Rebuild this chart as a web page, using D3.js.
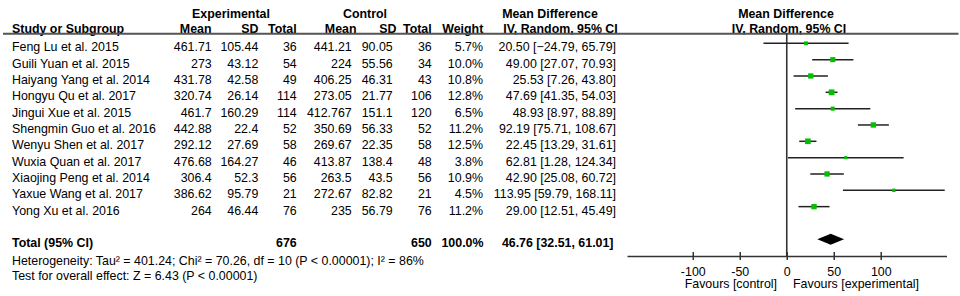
<!DOCTYPE html>
<html>
<head>
<meta charset="utf-8">
<script src="https://cdn.jsdelivr.net/npm/d3@7"></script>
<style>
  html, body { margin: 0; padding: 0; background: #fff; }
  svg { display: block; }
  text { font-family: "Liberation Sans", Arial, sans-serif; font-size: 12.4px; fill: #000; }
</style>
</head>
<body>
<svg id="chart" width="960" height="296"></svg>
<script>
const studies = ["Feng Lu et al. 2015","Guili Yuan et al. 2015","Haiyang Yang et al. 2014","Hongyu Qu et al. 2017","Jingui Xue et al. 2015","Shengmin Guo et al. 2016","Wenyu Shen et al. 2017","Wuxia Quan et al. 2017","Xiaojing Peng et al. 2014","Yaxue Wang et al. 2017","Yong Xu et al. 2016"];
const expMean = [461.71, 273, 431.78, 320.74, 461.7, 442.88, 292.12, 476.68, 306.4, 386.62, 264];
const expSD = [105.44, 43.12, 42.58, 26.14, 160.29, 22.4, 27.69, 164.27, 52.3, 95.79, 46.44];
const expN = [36, 54, 49, 114, 114, 52, 58, 46, 56, 21, 76];
const ctrlMean = [441.21, 224, 406.25, 273.05, 412.767, 350.69, 269.67, 413.87, 263.5, 272.67, 235];
const ctrlSD = [90.05, 55.56, 46.31, 21.77, 151.1, 56.33, 22.35, 138.4, 43.5, 82.82, 56.79];
const ctrlN = [36, 34, 43, 106, 120, 52, 58, 48, 56, 21, 76];
const weight = [5.7, 10.0, 10.8, 12.8, 6.5, 11.2, 12.5, 3.8, 10.9, 4.5, 11.2];
const md = [20.50, 49.00, 25.53, 47.69, 48.93, 92.19, 22.45, 62.81, 42.90, 113.95, 29.00];
const lower = [-24.79, 27.07, 7.26, 41.35, 8.97, 75.71, 13.29, 1.28, 25.08, 59.79, 12.51];
const upper = [65.79, 70.93, 43.80, 54.03, 88.89, 108.67, 31.61, 124.34, 60.72, 168.11, 45.49];
const total = { expN: 676, ctrlN: 650, weight: 100.0, md: 46.76, lower: 32.51, upper: 61.01 };
const tickValues = [-100, -50, 0, 50, 100];
const heterogeneity = "Heterogeneity: Tau\u00b2 = 401.24; Chi\u00b2 = 70.26, df = 10 (P < 0.00001); I\u00b2 = 86%";
const overall = "Test for overall effect: Z = 6.43 (P < 0.00001)";

const svg = d3.select("#chart");
const x = d3.scaleLinear().domain([-170, 170]).range([627, 946.5]);
const y = d3.scaleLinear().domain([0, 12]).range([43.3, 239.3]);
const base = i => y(i) + 7.9;
const f2 = d3.format(".2f");

// header texts
const hdr = svg.append("g");
function ht(t, xx, yy, anchor) {
  hdr.append("text").attr("x", xx).attr("y", yy).attr("text-anchor", anchor)
    .style("font-weight", "bold").text(t);
}
ht("Experimental", 231, 17.5, "middle");
ht("Control", 365, 17.5, "middle");
ht("Mean Difference", 550, 17.5, "middle");
ht("Mean Difference", 786, 17.5, "middle");
ht("Study or Subgroup", 12, 33, "start");
ht("Mean", 211.5, 33, "end");
ht("SD", 258.5, 33, "end");
ht("Total", 296.7, 33, "end");
ht("Mean", 356.5, 33, "end");
ht("SD", 396.5, 33, "end");
ht("Total", 431.7, 33, "end");
ht("Weight", 483.3, 33, "end");
ht("IV, Random, 95% CI", 560.5, 33, "middle");
ht("IV, Random, 95% CI", 789, 33, "middle");

// header rule
svg.append("line").attr("x1", 3).attr("x2", 958.5).attr("y1", 33.7).attr("y2", 33.7)
  .attr("stroke", "#555").attr("stroke-width", 2);

// table rows
const cols = [
  { v: i => String(expMean[i]), x: 211.7 },
  { v: i => String(expSD[i]), x: 258.3 },
  { v: i => String(expN[i]), x: 296.7 },
  { v: i => String(ctrlMean[i]), x: 351.7 },
  { v: i => String(ctrlSD[i]), x: 392.7 },
  { v: i => String(ctrlN[i]), x: 431.7 },
  { v: i => weight[i].toFixed(1) + "%", x: 483 },
  { v: i => `${f2(md[i])} [${f2(lower[i])}, ${f2(upper[i])}]`, x: 616 }
];
const rows = svg.append("g");
studies.forEach((s, i) => {
  rows.append("text").attr("x", 12).attr("y", base(i)).text(s);
  cols.forEach(c => {
    rows.append("text").attr("x", c.x).attr("y", base(i)).attr("text-anchor", "end").text(c.v(i));
  });
});

// total row
const tr = svg.append("g");
const ti = 12;
function bt(t, xx, anchor) {
  tr.append("text").attr("x", xx).attr("y", base(ti)).attr("text-anchor", anchor)
    .style("font-weight", "bold").text(t);
}
bt("Total (95% CI)", 12, "start");
bt(String(total.expN), 296.7, "end");
bt(String(total.ctrlN), 431.7, "end");
bt(total.weight.toFixed(1) + "%", 483.5, "end");
bt(`${f2(total.md)} [${f2(total.lower)}, ${f2(total.upper)}]`, 613.5, "end");

svg.append("text").attr("x", 12).attr("y", 264.5).text(heterogeneity);
svg.append("text").attr("x", 12).attr("y", 280).text(overall);

// plot
const plot = svg.append("g");
plot.append("line").attr("x1", x(0)).attr("x2", x(0)).attr("y1", 33).attr("y2", 256)
  .attr("stroke", "#333").attr("stroke-width", 1.6);

studies.forEach((s, i) => {
  plot.append("line").attr("x1", x(lower[i])).attr("x2", x(upper[i]))
    .attr("y1", y(i)).attr("y2", y(i)).attr("stroke", "#222").attr("stroke-width", 1.5);
});
studies.forEach((s, i) => {
  const sz = 1.6 * Math.sqrt(weight[i]);
  plot.append("rect").attr("x", x(md[i]) - sz / 2).attr("y", y(i) - sz / 2)
    .attr("width", sz).attr("height", sz).attr("fill", "#00c000");
});

// diamond
const dy = y(ti);
plot.append("path")
  .attr("d", `M${x(total.lower)},${dy} L${x(total.md)},${dy - 5.5} L${x(total.upper)},${dy} L${x(total.md)},${dy + 5.5} Z`)
  .attr("fill", "#000");

// axis
const axisG = svg.append("g").attr("transform", "translate(0,256)")
  .call(d3.axisBottom(x).tickValues(tickValues).tickFormat(d => String(d))
    .tickSizeOuter(0).tickSizeInner(4).tickPadding(7));
axisG.select(".domain").attr("stroke", "#333").attr("stroke-width", 1.5);
axisG.selectAll(".tick line").attr("y1", -4).attr("y2", 4).attr("stroke", "#333").attr("stroke-width", 1.5);
axisG.selectAll(".tick text").attr("font-size", null).attr("font-family", null)
  .style("font-size", "12.4px").attr("fill", "#000");

svg.append("text").attr("x", 777).attr("y", 288).attr("text-anchor", "end").text("Favours [control]");
svg.append("text").attr("x", 793).attr("y", 288).attr("text-anchor", "start").text("Favours [experimental]");
</script>
</body>
</html>
